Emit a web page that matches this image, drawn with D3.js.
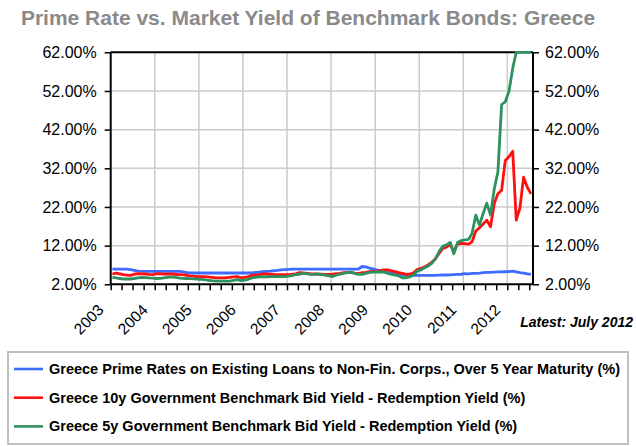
<!DOCTYPE html>
<html><head><meta charset="utf-8">
<script src="https://cdn.jsdelivr.net/npm/d3@7"></script>
<style>
html,body{margin:0;padding:0;background:#fff;}
svg{display:block;font-family:"Liberation Sans",Arial,sans-serif;}
</style></head>
<body>
<svg id="chart" width="636" height="446"></svg>
<script>
// ---- data (monthly, Jan 2003 .. Jul 2012) ----
const startMonth = "2003-01";
const yearLabels = ["2003","2004","2005","2006","2007","2008","2009","2010","2011","2012"];
const yTicks = [2, 12, 22, 32, 42, 52, 62];
const seriesNames = [
  "Greece Prime Rates on Existing Loans to Non-Fin. Corps., Over 5 Year Maturity (%)",
  "Greece 10y Government Benchmark Bid Yield - Redemption Yield (%)",
  "Greece 5y Government Benchmark Bid Yield - Redemption Yield (%)"
];
const primeRate = [
  5.95,5.95,5.95,5.95,5.9,5.8,5.6,5.4,5.35,5.35,5.35,5.35,
  5.35,5.35,5.35,5.35,5.35,5.35,5.35,5.3,5.1,4.95,4.92,4.92,
  4.92,4.92,4.92,4.92,4.92,4.92,4.92,4.92,4.92,4.92,4.92,4.92,
  4.92,4.92,4.95,5.05,5.15,5.3,5.35,5.4,5.5,5.6,5.75,5.8,
  5.85,5.9,5.9,5.9,5.9,5.9,5.9,5.9,5.9,5.9,5.9,5.9,
  5.9,5.9,5.9,5.9,5.9,5.9,5.9,5.95,6.6,6.5,6.2,6.0,
  5.7,5.5,5.2,5.0,4.85,4.7,4.55,4.45,4.35,4.3,4.3,4.3,
  4.3,4.3,4.3,4.3,4.3,4.35,4.4,4.4,4.45,4.5,4.55,4.6,
  4.75,4.7,4.8,4.85,4.9,5.0,5.1,5.1,5.15,5.2,5.2,5.25,
  5.3,5.4,5.2,5.0,4.9,4.7,4.6
];
const yield10y = [
  4.66,4.9,4.7,4.5,4.4,4.3,4.6,4.75,4.7,4.66,4.55,4.5,
  4.75,4.7,4.66,4.66,4.66,4.6,4.5,4.48,4.4,4.2,4.1,4.0,
  4.0,4.0,3.9,3.8,3.7,3.66,3.66,3.7,3.8,3.9,4.0,3.7,
  3.8,4.0,4.3,4.4,4.5,4.66,4.66,4.6,4.5,4.48,4.48,4.48,
  4.5,4.6,4.7,5.0,4.95,4.85,4.75,4.67,4.6,4.6,4.58,4.58,
  4.6,4.75,4.85,5.0,5.05,5.1,4.9,4.75,5.0,5.1,5.27,5.35,
  5.43,5.6,5.7,5.7,5.5,5.27,5.0,4.84,4.6,4.6,5.0,5.8,
  6.1,6.5,7.0,7.7,8.6,10.0,11.3,11.6,12.2,10.5,12.4,12.6,
  12.5,12.4,13.0,15.8,16.6,17.6,18.6,16.9,22.9,25.4,26.3,34.0,
  35.0,36.4,18.6,21.8,29.7,27.1,25.4
];
const yield5y = [
  3.8,3.66,3.5,3.37,3.37,3.37,3.5,3.66,3.8,3.75,3.66,3.6,
  3.5,3.55,3.66,3.8,3.9,3.8,3.66,3.55,3.5,3.45,3.4,3.37,
  3.3,3.2,3.05,2.93,2.85,2.8,2.8,2.8,2.8,3.0,3.2,2.93,
  3.1,3.3,3.66,3.8,3.9,3.9,3.9,4.0,4.0,4.0,4.0,4.0,
  4.1,4.3,4.48,4.6,4.84,4.7,4.58,4.6,4.67,4.5,4.4,4.2,
  4.0,4.4,4.6,4.84,5.0,5.18,4.8,4.58,4.58,4.84,5.1,5.15,
  5.18,5.2,5.18,4.84,4.58,4.4,4.14,3.7,3.7,3.9,4.4,5.4,
  5.7,6.3,6.7,7.4,8.5,10.5,11.8,12.2,12.8,9.9,12.8,13.3,
  13.5,13.6,15.2,19.9,17.3,20.3,23.0,19.9,26.7,31.0,48.5,49.2,
  51.9,57.9,62,62,62,62,62
];
const colors = ["#3d6cff", "#ff0f0f", "#2e9160"];

// ---- layout ----
const svg = d3.select("#chart");
const L = 110.7, R = 533, T = 52.3, B = 284.3;
const parseM = d3.timeParse("%Y-%m");
const t0 = parseM(startMonth);
const dates = primeRate.map((_, i) => d3.timeDay.offset(d3.timeMonth.offset(t0, i), 14));
const x = d3.scaleTime().domain([t0, d3.timeMonth.offset(t0, primeRate.length)]).range([L, R]);
const y = d3.scaleLinear().domain([2, 62]).range([B, T]);

svg.append("rect").attr("width", 636).attr("height", 446).attr("fill", "#fff");

// title
svg.append("text").attr("x", 308).attr("y", 25).attr("text-anchor", "middle")
  .attr("font-size", 21).attr("font-weight", "bold").attr("fill", "#8a8a8a")
  .text("Prime Rate vs. Market Yield of Benchmark Bonds: Greece");

const yearDates = yearLabels.map(s => d3.timeParse("%Y")(s));

// grid
const grid = svg.append("g").attr("stroke", "#cbcbcb").attr("stroke-width", 1.5);
grid.selectAll("line.h").data(yTicks.slice(1, -1)).join("line")
  .attr("x1", L).attr("x2", R).attr("y1", d => y(d)).attr("y2", d => y(d));
grid.selectAll("line.v").data(yearDates.slice(1)).join("line")
  .attr("x1", d => x(d)).attr("x2", d => x(d)).attr("y1", T).attr("y2", B);

// top frame
svg.append("line").attr("x1", L).attr("x2", R).attr("y1", T).attr("y2", T)
  .attr("stroke", "#000").attr("stroke-width", 2);

// axes
const fmt = d => d3.format(".2f")(d) + "%";
const yl = svg.append("g").attr("transform", `translate(${L},0)`)
  .call(d3.axisLeft(y).tickValues(yTicks).tickFormat(fmt).tickSize(6).tickPadding(8));
const yr = svg.append("g").attr("transform", `translate(${R},0)`)
  .call(d3.axisRight(y).tickValues(yTicks).tickFormat(fmt).tickSize(6).tickPadding(6));
const xb = svg.append("g").attr("transform", `translate(0,${B})`)
  .call(d3.axisBottom(x).ticks(d3.timeMonth.every(3)).tickFormat("").tickSize(6));
[yl, yr, xb].forEach(g => {
  g.select(".domain").attr("stroke", "#000").attr("stroke-width", 2);
  g.selectAll(".tick line").attr("stroke", "#000").attr("stroke-width", 1.5);
  g.selectAll(".tick text").attr("font-size", 16).attr("fill", "#000")
    .attr("font-family", "'Liberation Sans',Arial,sans-serif");
});
xb.select(".domain").attr("d", `M${L},0H${R}`);
yl.select(".domain").attr("d", `M0,${B}V${T}`);
yr.select(".domain").attr("d", `M0,${B}V${T}`);

// series (drawn over frame)
const line = d3.line().x((d, i) => x(dates[i])).y(d => y(d));
[primeRate, yield10y, yield5y].forEach((s, k) => {
  svg.append("path").datum(s).attr("d", line).attr("fill", "none")
    .attr("stroke", colors[k]).attr("stroke-width", 2.8).attr("stroke-linejoin", "round");
});

// year labels
svg.append("g").selectAll("text").data(yearDates).join("text")
  .attr("transform", d => `translate(${x(d) - 6},311) rotate(-45)`)
  .attr("text-anchor", "end").attr("font-size", 15.5).attr("fill", "#000")
  .text((d, i) => yearLabels[i]);

svg.append("text").attr("x", 633).attr("y", 327).attr("text-anchor", "end")
  .attr("font-size", 14).attr("font-weight", "bold").attr("font-style", "italic")
  .text("Latest: July 2012");

// legend
svg.append("rect").attr("x", 8).attr("y", 352).attr("width", 620).attr("height", 92)
  .attr("fill", "#fff").attr("stroke", "#c0c0c0").attr("stroke-width", 2);
const lg = svg.append("g").selectAll("g").data(seriesNames).join("g")
  .attr("transform", (d, i) => `translate(0,${369 + i * 28.7})`);
lg.append("line").attr("x1", 14).attr("x2", 43).attr("stroke", (d, i) => colors[i]).attr("stroke-width", 2.6);
lg.append("text").attr("x", 49).attr("dy", "0.35em").attr("font-size", 14.5)
  .attr("font-weight", "bold").attr("fill", "#000").text(d => d);
</script>
</body></html>
